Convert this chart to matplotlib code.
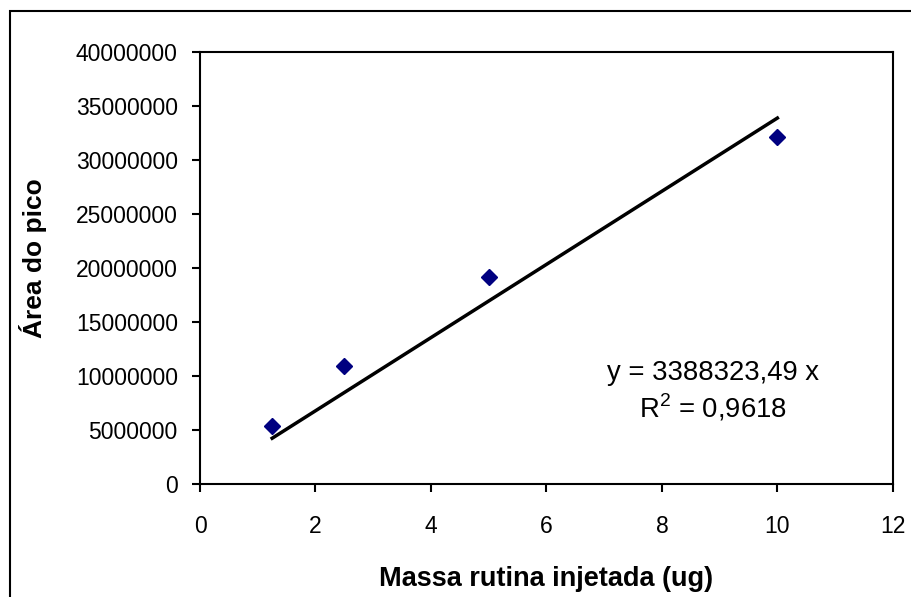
import matplotlib
matplotlib.use("Agg")
import matplotlib.pyplot as plt
from matplotlib.patches import Rectangle

plt.rcParams["font.family"] = ["Liberation Sans", "DejaVu Sans"]
plt.rcParams["mathtext.fontset"] = "custom"
plt.rcParams["mathtext.rm"] = "Liberation Sans"

# data
massa = [1.25, 2.5, 5.0, 10.0]
area = [5400000, 10900000, 19200000, 32100000]

# Excel trendline (through origin)
slope = 3388323.49
r2_text = "0,9618"

x_ticks = [0, 2, 4, 6, 8, 10, 12]
y_ticks = list(range(0, 40000001, 5000000))

fig = plt.figure(figsize=(9.12, 5.97), dpi=100)
ax = fig.add_axes([0.2193, 0.1893, 0.979 - 0.2193, 0.9129 - 0.1893])

# trendline from first to last point
x_line = [min(massa), max(massa)]
y_line = [slope * x for x in x_line]
ax.plot(x_line, y_line, color="black", linewidth=2.5, zorder=2)

ax.plot(massa, area, linestyle="none", marker="D", markersize=8,
        color="#000080", zorder=3)

ax.set_xlim(0, 12)
ax.set_ylim(0, 40000000)
ax.set_xticks(x_ticks)
ax.set_yticks(y_ticks)
ax.set_xticklabels([str(t) for t in x_ticks])
ax.set_yticklabels([str(t) for t in y_ticks])

for sp in ax.spines.values():
    sp.set_linewidth(1.5)
    sp.set_color("black")

ax.tick_params(axis="both", direction="out", length=6, width=1.5,
               labelsize=16.5, colors="black")
ax.tick_params(axis="y", pad=10)
ax.tick_params(axis="x", pad=16)

ax.set_xlabel("Massa rutina injetada (ug)", fontsize=19.5, fontweight="bold")
ax.set_ylabel("Área do pico", fontsize=19, fontweight="bold")
ax.xaxis.set_label_coords(0.5, -0.19)
ax.yaxis.set_label_coords(-0.221, 0.523)

eq = "y = " + f"{slope:.2f}".replace(".", ",") + " x"
ax.text(0.740, 0.2407, eq, transform=ax.transAxes, ha="center",
        va="baseline", fontsize=19.8)
ax.text(0.740, 0.1528, "R$^2$ = " + r2_text, transform=ax.transAxes,
        ha="center", va="baseline", fontsize=19.8)

# outer chart border (only left/top visible in the crop)
fig.patches.append(Rectangle((10 / 912, -0.1), 1.2, 1.1 - 11 / 597,
                             transform=fig.transFigure, fill=False,
                             edgecolor="black", linewidth=1.5))

fig.savefig("out.png", dpi=100)
